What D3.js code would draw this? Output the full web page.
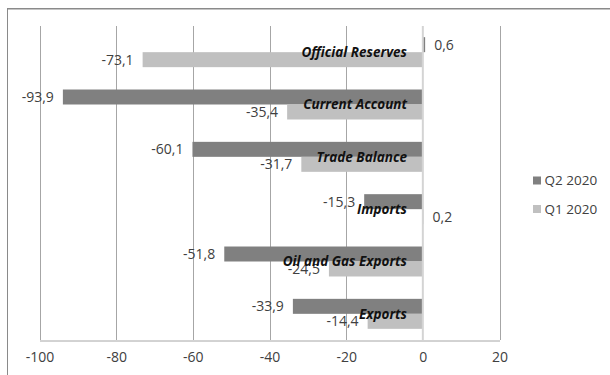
<!DOCTYPE html>
<html>
<head>
<meta charset="utf-8">
<script src="https://cdn.jsdelivr.net/npm/d3@7"></script>
<style>
  html, body { margin: 0; padding: 0; background: #fff; }
  svg { display: block; }
  text { font-family: "Open Sans", "Liberation Sans", sans-serif; }
</style>
</head>
<body>
<svg id="chart" width="610" height="375"></svg>
<script>
const categories = ["Official Reserves", "Current Account", "Trade Balance", "Imports", "Oil and Gas Exports", "Exports"];
const seriesNames = ["Q2 2020", "Q1 2020"];
const q2Values = [0.6, -93.9, -60.1, -15.3, -51.8, -33.9];
const q1Values = [-73.1, -35.4, -31.7, 0.2, -24.5, -14.4];
const xTicks = [-100, -80, -60, -40, -20, 0, 20];
const colors = ["#808080", "#c0c0c0"];

const svg = d3.select("#chart");

// locale with hyphen minus and decimal comma
const locale = d3.formatLocale({ decimal: ",", thousands: ".", grouping: [3], currency: ["", ""], minus: "-" });
const fmtVal = locale.format(".1f");
const fmtTick = locale.format("d");

// outer chart border
svg.append("rect").attr("x", 7.5).attr("y", 8.5).attr("width", 620).attr("height", 400)
  .attr("fill", "none").attr("stroke", "#8a8a8a").attr("stroke-width", 1);
svg.append("line").attr("x1", 8).attr("x2", 610).attr("y1", 9.5).attr("y2", 9.5)
  .attr("stroke", "#c4c4c4").attr("stroke-width", 1);

const x = d3.scaleLinear().domain([-100, 20]).range([39.5, 499.5]);
const y = d3.scaleBand().domain(categories).range([26, 340]).paddingInner(0.427).paddingOuter(0.2135);
const bh = y.bandwidth() / 2;

// gridlines
svg.append("g").selectAll("line").data(xTicks.filter(t => t !== 0)).join("line")
  .attr("x1", d => Math.round(x(d)) + 0.5).attr("x2", d => Math.round(x(d)) + 0.5)
  .attr("y1", 26).attr("y2", 340)
  .attr("stroke", "#a6a6a6").attr("stroke-width", 1);

// bottom axis
const xAxis = d3.axisBottom(x).tickValues(xTicks).tickSize(0).tickPadding(12).tickFormat(fmtTick);
const gx = svg.append("g").attr("transform", "translate(0,340.5)").call(xAxis);
gx.select(".domain").attr("stroke", "#a6a6a6");
gx.selectAll("text").attr("font-size", "14px").attr("fill", "#404040")
  .attr("font-family", "\"Open Sans\", sans-serif");

const rows = categories.map((c, i) => ({ cat: c, q2: q2Values[i], q1: q1Values[i] }));

// bars
const bars = svg.append("g");
bars.selectAll("rect.q2").data(rows).join("rect").attr("class", "q2")
  .attr("x", d => x(Math.min(0, d.q2))).attr("width", d => Math.abs(x(d.q2) - x(0)))
  .attr("y", d => y(d.cat)).attr("height", bh).attr("fill", colors[0]);
bars.selectAll("rect.q1").data(rows).join("rect").attr("class", "q1")
  .attr("x", d => x(Math.min(0, d.q1))).attr("width", d => Math.abs(x(d.q1) - x(0)))
  .attr("y", d => y(d.cat) + bh).attr("height", bh).attr("fill", colors[1]);

// zero axis line
svg.append("line").attr("x1", x(0)).attr("x2", x(0)).attr("y1", 26).attr("y2", 340)
  .attr("stroke", "#d4d4d4").attr("stroke-width", 2);

// value labels
const labels = svg.append("g").attr("font-size", "14px").attr("fill", "#404040");
[["q2", 0], ["q1", 1]].forEach(([key, k]) => {
  labels.selectAll("text." + key).data(rows).join("text").attr("class", key)
    .attr("x", d => d[key] < 0 ? x(d[key]) - 9 : x(d[key]) + 9)
    .attr("y", d => y(d.cat) + bh * k + bh / 2)
    .attr("dy", "0.35em")
    .attr("text-anchor", d => d[key] < 0 ? "end" : "start")
    .text(d => fmtVal(d[key]));
});

// category labels
svg.append("g").selectAll("text").data(categories).join("text")
  .attr("x", 407).attr("y", d => y(d) + y.bandwidth() / 2).attr("dy", "0.35em")
  .attr("text-anchor", "end").attr("font-size", "13.5px").attr("font-weight", "bold")
  .attr("font-style", "italic").attr("fill", "#111")
  .text(d => d);

// legend
const legend = svg.append("g");
seriesNames.forEach((s, i) => {
  const ly = 180.5 + i * 28.5;
  legend.append("rect").attr("x", 533).attr("y", ly - 4).attr("width", 8).attr("height", 8).attr("fill", colors[i]);
  legend.append("text").attr("x", 544.5).attr("y", ly).attr("dy", "0.35em")
    .attr("font-size", "13.5px").attr("fill", "#404040").text(s);
});
</script>
</body>
</html>
